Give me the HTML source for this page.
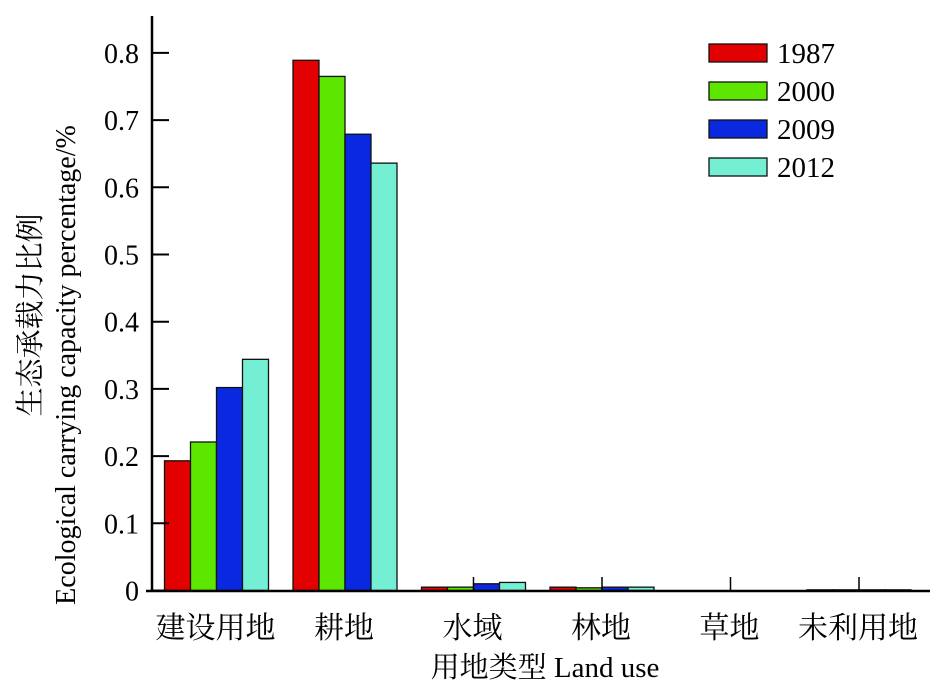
<!DOCTYPE html>
<html><head><meta charset="utf-8">
<style>
body{margin:0;background:#fff;}
svg{display:block;font-family:"Liberation Serif","Noto Serif CJK SC","Noto Sans CJK SC",serif;}
</style></head>
<body>
<svg id="chart" width="945" height="697" viewBox="0 0 945 697"></svg>
<script>
const categories=["建设用地","耕地","水域","林地","草地","未利用地"];
const years=["1987","2000","2009","2012"];
const s1987=[0.193,0.789,0.005,0.005,0,0.001];
const s2000=[0.221,0.765,0.005,0.004,0,0.001];
const s2009=[0.302,0.679,0.010,0.005,0,0.001];
const s2012=[0.344,0.636,0.012,0.005,0,0.001];
const yTicks=[0,0.1,0.2,0.3,0.4,0.5,0.6,0.7,0.8];
const yTickLabels=["0","0.1","0.2","0.3","0.4","0.5","0.6","0.7","0.8"];
const series=[s1987,s2000,s2009,s2012];
const colors=["#e30000","#5ce600","#0a28e0","#74efd4"];
const NS="http://www.w3.org/2000/svg";
const svg=document.getElementById('chart');
function mk(t,a,p){const e=document.createElementNS(NS,t);for(const k in a)e.setAttribute(k,a[k]);(p||svg).appendChild(e);return e;}
const x0=152,yZero=590.5,perUnit=672;
function y(v){return yZero-v*perUnit;}
function cx(i){return 216.5+i*128.5;}
const bw=26;
series.forEach((s,si)=>{s.forEach((v,ci)=>{
  const h=Math.max(v*perUnit,0);
  if(h<=0)return;
  const r=mk('rect',{x:cx(ci)-2*bw+si*bw,y:y(v),width:bw,height:h,fill:colors[si],stroke:'#111','stroke-width':1.3});
  
  
});});
const ya=mk('line',{x1:x0,y1:16,x2:x0,y2:592,stroke:'#000','stroke-width':2.5});

const xa=mk('line',{x1:x0-6,y1:591,x2:930,y2:591,stroke:'#000','stroke-width':2.5});

yTicks.forEach((v,i)=>{
  mk('line',{x1:x0,y1:y(v),x2:x0+17,y2:y(v),stroke:'#000','stroke-width':2});
  const t=mk('text',{x:139,y:y(v)+10,'text-anchor':'end','font-size':28});
  t.textContent=yTickLabels[i];
  
});
categories.forEach((c,i)=>{
  if(i>=2)mk('line',{x1:cx(i),y1:591,x2:cx(i),y2:577,stroke:'#000','stroke-width':1.5});
  const t=mk('text',{x:cx(i)-1,y:638,'text-anchor':'middle','font-size':30});
  t.textContent=c;
  
});
const xt=mk('text',{x:545,y:677,'text-anchor':'middle','font-size':29});
xt.textContent='用地类型 Land use';

const yt1=mk('text',{x:0,y:0,'text-anchor':'middle','font-size':29,transform:'translate(40,315) rotate(-90)'});
yt1.textContent='生态承载力比例';

const yt2=mk('text',{x:0,y:0,'text-anchor':'middle','font-size':28,transform:'translate(75,365) rotate(-90)'});
yt2.textContent='Ecological carrying capacity percentage/%';

years.forEach((yr,i)=>{
  const ly=44+i*38;
  const r=mk('rect',{x:709,y:ly,width:58,height:18,fill:colors[i],stroke:'#111','stroke-width':1.3});
  
  const t=mk('text',{x:777,y:ly+19,'font-size':29});
  t.textContent=yr;
  
});
</script>
</body></html>
